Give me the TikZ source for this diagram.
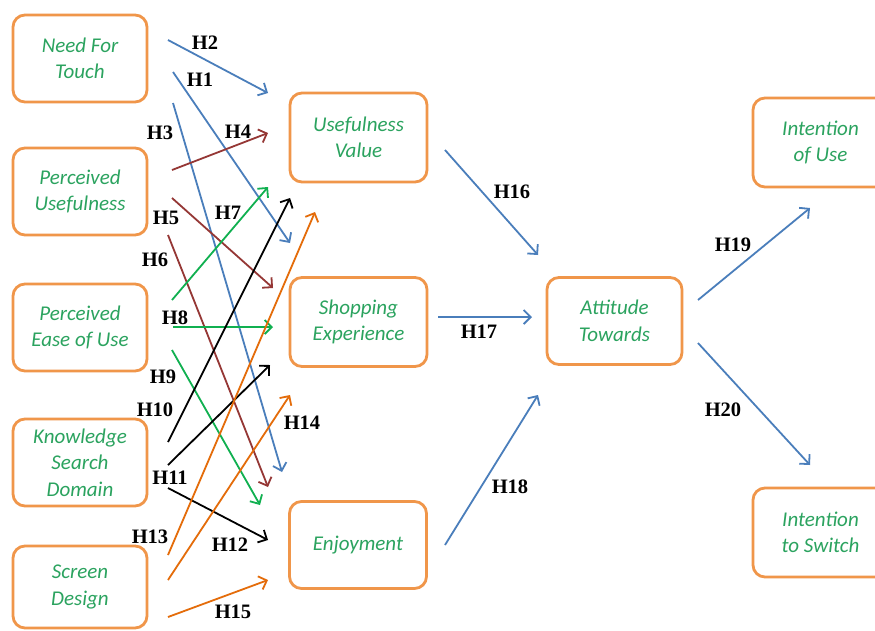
\documentclass[tikz,border=0pt]{standalone}
\usepackage{fontspec}
\setmainfont{Liberation Serif}
\newfontfamily\boxfont{Carlito}
\usetikzlibrary{arrows.meta}
\definecolor{BoxOrange}{HTML}{F0964A}
\definecolor{BoxGreen}{HTML}{2BA35F}
\definecolor{HypBlue}{HTML}{4A7EBB}
\definecolor{HypBrown}{HTML}{953735}
\definecolor{HypGreen}{HTML}{10B050}
\definecolor{HypOrange}{HTML}{E46C0A}

\begin{document}
\begin{tikzpicture}[x=1pt,y=-1pt,
    box/.style={draw=BoxOrange,line width=2.8pt,rounded corners=12pt,minimum width=134pt,minimum height=87pt,align=center,text=BoxGreen,font=\boxfont\itshape\fontsize{21}{26.5}\selectfont},
    hlab/.style={font=\bfseries\fontsize{20.5}{20.5}\selectfont},
    hyp/.style={line width=1.8pt,-{Straight Barb[length=7pt,width=14pt]}}]
        \useasboundingbox (0,0) rectangle (875,630);
        \fill[white] (0,0) rectangle (875,630);
        \clip (0,0) rectangle (875,630);
        % constructs
        \node[box] (nft) at (80,58.5) {Need For\\Touch};
        \node[box] (pu) at (80,191.5) {Perceived\\Usefulness};
        \node[box] (peou) at (80,327.5) {Perceived\\Ease of Use};
        \node[box] (ksd) at (80,462.5) {Knowledge\\Search\\Domain};
        \node[box,minimum height=82pt] (sd) at (80,587) {Screen\\Design};
        \node[box,minimum width=137pt,minimum height=89pt] (uv) at (358.5,137.5) {Usefulness\\Value};
        \node[box,minimum width=137pt,minimum height=89pt] (se) at (358.5,322) {Shopping\\Experience};
        \node[box,minimum width=137pt] (enj) at (358,545) {Enjoyment};
        \node[box,minimum width=135pt] (att) at (614.5,321) {Attitude\\Towards};
        \node[box,minimum width=135pt,minimum height=89pt] (iou) at (820.5,142.5) {Intention\\of Use};
        \node[box,minimum width=135pt,minimum height=89pt] (its) at (820.5,532.5) {Intention\\to Switch};
        % arrow ends
        \coordinate (h1a) at (173,72);  \coordinate (h1b) at (290,243);
        \coordinate (h2a) at (168,40);  \coordinate (h2b) at (268,93);
        \coordinate (h3a) at (173,103); \coordinate (h3b) at (282,472);
        \coordinate (h4a) at (172,170); \coordinate (h4b) at (268,133);
        \coordinate (h5a) at (172,198); \coordinate (h5b) at (273,288);
        \coordinate (h6a) at (168,235); \coordinate (h6b) at (268,487);
        \coordinate (h7a) at (172,300); \coordinate (h7b) at (268,187);
        \coordinate (h8a) at (173,327); \coordinate (h8b) at (273,327);
        \coordinate (h9a) at (172,350); \coordinate (h9b) at (260,505);
        \coordinate (h10a) at (168,442); \coordinate (h10b) at (290,198);
        \coordinate (h11a) at (168,465); \coordinate (h11b) at (270,365);
        \coordinate (h12a) at (168,488); \coordinate (h12b) at (268,540);
        \coordinate (h13a) at (168,555); \coordinate (h13b) at (315,212);
        \coordinate (h14a) at (168,580); \coordinate (h14b) at (290,395);
        \coordinate (h15a) at (168,617); \coordinate (h15b) at (268,580);
        \coordinate (h16a) at (445,150); \coordinate (h16b) at (538,255);
        \coordinate (h17a) at (438,317); \coordinate (h17b) at (532,317);
        \coordinate (h18a) at (445,545); \coordinate (h18b) at (538,395);
        \coordinate (h19a) at (698,300); \coordinate (h19b) at (810,208);
        \coordinate (h20a) at (698,343); \coordinate (h20b) at (810,465);
        % hypotheses
        \draw[hyp,HypBlue] (h2a) -- (h2b);
        \draw[hyp,HypBlue] (h1a) -- (h1b);
        \draw[hyp,HypBlue] (h3a) -- (h3b);
        \draw[hyp,HypBrown] (h4a) -- (h4b);
        \draw[hyp,HypBrown] (h5a) -- (h5b);
        \draw[hyp,HypBrown] (h6a) -- (h6b);
        \draw[hyp,HypGreen] (h7a) -- (h7b);
        \draw[hyp,HypGreen] (h8a) -- (h8b);
        \draw[hyp,HypGreen] (h9a) -- (h9b);
        \draw[hyp,black] (h10a) -- (h10b);
        \draw[hyp,black] (h11a) -- (h11b);
        \draw[hyp,black] (h12a) -- (h12b);
        \draw[hyp,HypOrange] (h13a) -- (h13b);
        \draw[hyp,HypOrange] (h14a) -- (h14b);
        \draw[hyp,HypOrange] (h15a) -- (h15b);
        \draw[hyp,HypBlue] (h16a) -- (h16b);
        \draw[hyp,HypBlue] (h17a) -- (h17b);
        \draw[hyp,HypBlue] (h18a) -- (h18b);
        \draw[hyp,HypBlue] (h19a) -- (h19b);
        \draw[hyp,HypBlue] (h20a) -- (h20b);
        % labels
        \node[hlab] (lh1) at (200,80) {H1};
        \node[hlab] (lh2) at (205,43) {H2};
        \node[hlab] (lh3) at (160,133) {H3};
        \node[hlab] (lh4) at (238,132) {H4};
        \node[hlab] (lh5) at (166,218) {H5};
        \node[hlab] (lh6) at (155,260) {H6};
        \node[hlab] (lh7) at (228,213) {H7};
        \node[hlab] (lh8) at (175,318) {H8};
        \node[hlab] (lh9) at (163,377) {H9};
        \node[hlab] (lh10) at (155,410) {H10};
        \node[hlab] (lh11) at (170,478) {H11};
        \node[hlab] (lh12) at (230,545) {H12};
        \node[hlab] (lh13) at (150,537) {H13};
        \node[hlab] (lh14) at (302,423) {H14};
        \node[hlab] (lh15) at (233,612) {H15};
        \node[hlab] (lh16) at (512,192) {H16};
        \node[hlab] (lh17) at (479,332) {H17};
        \node[hlab] (lh18) at (510,487) {H18};
        \node[hlab] (lh19) at (733,245) {H19};
        \node[hlab] (lh20) at (723,410) {H20};
      \end{tikzpicture}
\end{document}
